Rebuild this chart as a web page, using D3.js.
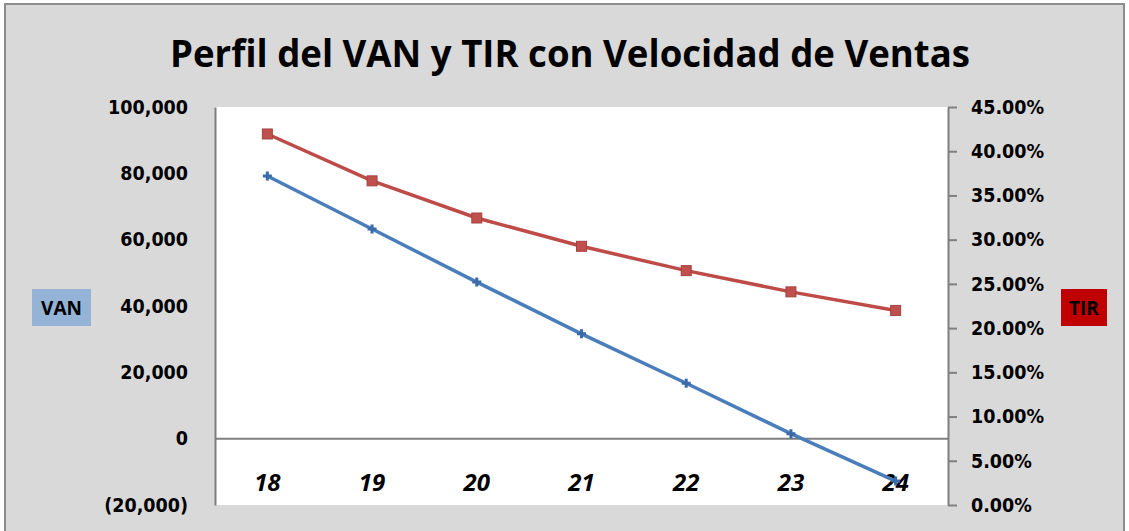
<!DOCTYPE html>
<html>
<head>
<meta charset="utf-8">
<script src="https://cdn.jsdelivr.net/npm/d3@7"></script>
<style>
  body { margin: 0; background: #ffffff; }
  svg { display: block; }
  .tick text { font-family: "DejaVu Sans Condensed", "DejaVu Sans", sans-serif; font-weight: bold; font-stretch: condensed; }
</style>
</head>
<body>
<div id="chart"></div>
<script>
// chart data
const categories = ["18", "19", "20", "21", "22", "23", "24"];
const vanValues = [79200, 63200, 47200, 31600, 16700, 1500, -12800];
const tirValues = [0.4195, 0.3665, 0.3245, 0.2925, 0.2650, 0.2410, 0.2200];
const vanTicks = [-20000, 0, 20000, 40000, 60000, 80000, 100000];
const tirTicks = [0, 0.05, 0.10, 0.15, 0.20, 0.25, 0.30, 0.35, 0.40, 0.45];

const W = 1129, H = 531;
const plot = { left: 215, right: 948, top: 107, bottom: 505 };

const svg = d3.select("#chart").append("svg")
    .attr("width", W)
    .attr("height", H);

// chart background + border
svg.append("rect")
    .attr("x", 5).attr("y", 4)
    .attr("width", 1119).attr("height", 532)
    .attr("fill", "#d9d9d9")
    .attr("stroke", "#8c8c8c")
    .attr("stroke-width", 2);

// title
svg.append("text")
    .attr("x", 570).attr("y", 67)
    .attr("text-anchor", "middle")
    .attr("textLength", 800)
    .attr("lengthAdjust", "spacingAndGlyphs")
    .style("font-family", "'Open Sans', sans-serif")
    .style("font-weight", "bold")
    .style("font-size", "37px")
    .style("fill", "#000")
    .text("Perfil del VAN y TIR con Velocidad de Ventas");

// plot area
svg.append("rect")
    .attr("x", plot.left).attr("y", plot.top)
    .attr("width", plot.right - plot.left)
    .attr("height", plot.bottom - plot.top)
    .attr("fill", "#ffffff");

// scales
const x = d3.scaleBand()
    .domain(categories)
    .range([plot.left, plot.right])
    .padding(0);
const yVan = d3.scaleLinear()
    .domain([-20000, 100000])
    .range([plot.bottom, plot.top]);
const yTir = d3.scaleLinear()
    .domain([0, 0.45])
    .range([plot.bottom, plot.top]);

const fmtVan = v => v < 0 ? "(" + d3.format(",")(-v) + ")" : d3.format(",")(v);

// left axis
const leftAxis = svg.append("g")
    .attr("transform", "translate(" + plot.left + ",0)")
    .call(d3.axisLeft(yVan).tickValues(vanTicks).tickFormat(fmtVan).tickSize(0).tickPadding(27));
leftAxis.select(".domain").attr("stroke", "#7f7f7f").attr("stroke-width", 2);
leftAxis.selectAll(".tick text").style("font-size", "19.5px").attr("fill", "#000");

// right axis
const rightAxis = svg.append("g")
    .attr("transform", "translate(" + plot.right + ",0)")
    .call(d3.axisRight(yTir).tickValues(tirTicks).tickFormat(d3.format(".2%")).tickSize(9).tickSizeOuter(0).tickPadding(14));
rightAxis.select(".domain").attr("stroke", "#7f7f7f").attr("stroke-width", 2);
rightAxis.selectAll(".tick line").attr("stroke", "#7f7f7f").attr("stroke-width", 2);
rightAxis.selectAll(".tick text").style("font-size", "19.5px").attr("fill", "#000");

// zero line
svg.append("line")
    .attr("x1", plot.left).attr("x2", plot.right)
    .attr("y1", yVan(0)).attr("y2", yVan(0))
    .attr("stroke", "#7f7f7f")
    .attr("stroke-width", 2);

// category labels
svg.append("g").selectAll("text")
    .data(categories)
    .join("text")
    .attr("x", d => x(d) + x.bandwidth() / 2)
    .attr("y", 491)
    .attr("text-anchor", "middle")
    .style("font-family", "'Open Sans', sans-serif")
    .style("font-weight", "bold")
    .style("font-style", "italic")
    .style("font-size", "24px")
    .text(d => d);

// lines
const cx = i => x(categories[i]) + x.bandwidth() / 2;
const lineVan = d3.line().x((d, i) => cx(i)).y(d => yVan(d));
const lineTir = d3.line().x((d, i) => cx(i)).y(d => yTir(d));

svg.append("path")
    .datum(tirValues)
    .attr("d", lineTir)
    .attr("fill", "none")
    .attr("stroke", "#be4b48")
    .attr("stroke-width", 3.5);

svg.append("path")
    .datum(vanValues)
    .attr("d", lineVan)
    .attr("fill", "none")
    .attr("stroke", "#4a7ebb")
    .attr("stroke-width", 3.5);

// markers
svg.append("g").selectAll("rect")
    .data(tirValues)
    .join("rect")
    .attr("x", (d, i) => cx(i) - 5)
    .attr("y", d => yTir(d) - 5)
    .attr("width", 10).attr("height", 10)
    .attr("fill", "#c0504d")
    .attr("stroke", "#a34340")
    .attr("stroke-width", 1);

svg.append("g").selectAll("path")
    .data(vanValues)
    .join("path")
    .attr("transform", (d, i) => "translate(" + cx(i) + "," + yVan(d) + ")")
    .attr("d", d3.symbol(d3.symbolCross, 45))
    .attr("fill", "#3a6aa8");

// axis title boxes
svg.append("rect")
    .attr("x", 32).attr("y", 289).attr("width", 59).attr("height", 37)
    .attr("fill", "#95b3d7");
svg.append("text")
    .attr("x", 61.5).attr("y", 314.5)
    .attr("text-anchor", "middle")
    .style("font-family", "'Open Sans', sans-serif")
    .style("font-weight", "bold")
    .style("font-size", "19px")
    .text("VAN");

svg.append("rect")
    .attr("x", 1061).attr("y", 289).attr("width", 46).attr("height", 37)
    .attr("fill", "#c00000");
svg.append("text")
    .attr("x", 1084).attr("y", 314.5)
    .attr("text-anchor", "middle")
    .style("font-family", "'Open Sans', sans-serif")
    .style("font-weight", "bold")
    .style("font-size", "19px")
    .text("TIR");
</script>
</body>
</html>
